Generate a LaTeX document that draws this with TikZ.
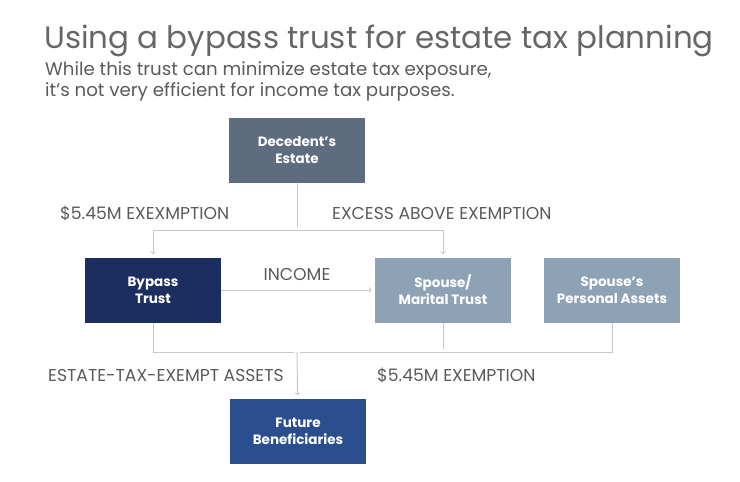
\documentclass[tikz,border=0pt]{standalone}
\usepackage{fontspec}
\setmainfont{Poppins}
\usetikzlibrary{positioning,arrows}

\definecolor{estatecol}{HTML}{5E6C7F}
\definecolor{bypasscol}{HTML}{1C2E5F}
\definecolor{spousecol}{HTML}{8EA2B6}
\definecolor{futurecol}{HTML}{2B4F8E}
\definecolor{linecol}{HTML}{C9C9C9}
\definecolor{labelcol}{HTML}{5A5A5A}
\definecolor{titlecol}{HTML}{666666}

\begin{document}
\begin{tikzpicture}[x=1pt,y=-1pt,
  every node/.style={inner sep=0pt},
  box/.style={minimum width=136pt,minimum height=65pt,align=center,text=white,
    font=\fontsize{13.5}{17}\selectfont\bfseries},
  lbl/.style={text=labelcol,font=\fontsize{17.2}{20}\selectfont},
  conn/.style={draw=linecol,line width=1pt},
  ->,>=to,shorten >=3pt
]
\useasboundingbox (0,0) rectangle (740,482);

% the heading
\node[anchor=base west,text=titlecol,font=\fontsize{30.9}{36}\selectfont] (title) at (44,48)
  {Using a bypass trust for estate tax planning};
\node[anchor=base west,text=labelcol,font=\fontsize{18.2}{21}\selectfont] (sub1) at (45,75)
  {While this trust can minimize estate tax exposure,};
\node[anchor=base west,text=labelcol,font=\fontsize{18.2}{21}\selectfont] (sub2) at (45,96)
  {it's not very efficient for income tax purposes.};

% the boxes
\node[box,fill=estatecol] (estate) at (297,150) {Decedent's\\Estate};
\node[box,fill=bypasscol] (bypass) at (153,290) {Bypass\\Trust};
\node[box,fill=spousecol] (marital) at (443,290) {Spouse/\\Marital Trust};
\node[box,fill=spousecol] (personal) at (612,290) {Spouse's\\Personal Assets};
\node[box,fill=futurecol] (future) at (298,431) {Future\\Beneficiaries};

% the joints
\coordinate (split) at (297,230);
\coordinate (join) at (297,352);

% the edges
\draw[conn,-] (estate) -- (split);
\draw[conn] (split) -| (bypass);
\draw[conn] (split) -| (marital);
\draw[conn] (bypass) -- (marital);
\draw[conn,-] (bypass) |- (join);
\draw[conn,-] (personal) |- (join);
\draw[conn,-] (marital) -- (marital |- join);
\draw[conn] (join) -- (future);

% the labels
\node[lbl,anchor=west] (exemption) at (60,213) {\$5.45M EXEXMPTION};
\node[lbl,anchor=west] (excess) at (332,213) {EXCESS ABOVE EXEMPTION};
\node[lbl] (income) at (297,274) {INCOME};
\node[lbl,anchor=west] (exempt) at (48,375) {ESTATE-TAX-EXEMPT ASSETS};
\node[lbl,anchor=west] (exemption2) at (377,375) {\$5.45M EXEMPTION};

\end{tikzpicture}
\end{document}
